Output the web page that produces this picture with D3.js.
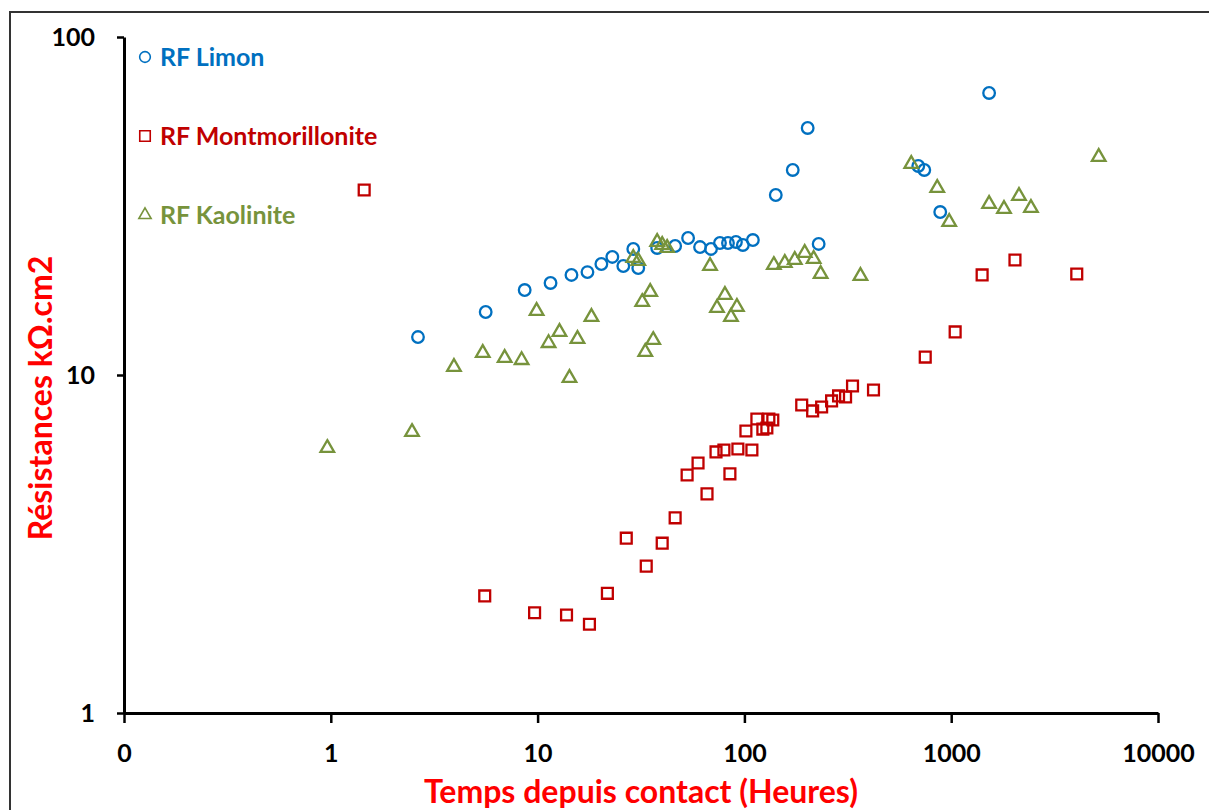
<!DOCTYPE html>
<html>
<head>
<meta charset="utf-8">
<script src="https://cdn.jsdelivr.net/npm/d3@7"></script>
<style>
  body { margin: 0; background: #fff; }
  svg { display: block; }
</style>
</head>
<body>
<div id="chart"></div>
<script>
// valeurs (temps en heures, resistance en kOhm.cm2)
const limonX = [2.64, 5.61, 8.66, 11.55, 14.58, 17.42, 20.34, 22.98, 25.97, 29.02, 30.67, 37.86, 46.25, 53.42, 61.02, 68.95, 76.18, 83.28, 91.0, 98.3, 109.9, 141.8, 171.3, 202.3, 228.6, 693, 741, 885, 1525];
const limonY = [12.95, 15.36, 17.84, 18.72, 19.77, 20.16, 21.30, 22.35, 21.01, 23.60, 20.73, 23.76, 24.08, 25.43, 23.91, 23.60, 24.58, 24.58, 24.75, 24.25, 25.08, 34.08, 40.42, 53.81, 24.42, 41.53, 40.42, 30.35, 68.3];

const montX = [1.45, 5.55, 9.67, 13.80, 17.81, 21.75, 26.84, 33.52, 40.04, 46.25, 52.84, 59.68, 65.95, 72.9, 79.6, 85.1, 93.0, 101.7, 108.7, 114.9, 122.8, 128.4, 137.2, 131.3, 189.3, 213.8, 236.3, 264.0, 285.3, 308.5, 333.3, 421, 749, 1045, 1411, 2034, 4047];
const montY = [35.27, 2.22, 1.98, 1.95, 1.83, 2.26, 3.29, 2.72, 3.18, 3.78, 5.06, 5.49, 4.45, 5.92, 6.00, 5.10, 6.04, 6.83, 6.00, 7.41, 6.92, 6.97, 7.36, 7.41, 8.15, 7.83, 8.04, 8.38, 8.67, 8.61, 9.28, 9.03, 11.30, 13.41, 19.77, 21.89, 19.90];

const kaoX = [0.962, 2.47, 3.94, 5.43, 6.93, 8.37, 9.89, 11.30, 12.76, 14.26, 15.59, 18.21, 29.02, 30.67, 32.06, 35.04, 33.16, 36.23, 37.86, 40.04, 42.31, 68.2, 73.7, 80.5, 86.1, 92.0, 138.8, 156.8, 175.2, 195.7, 216.2, 233.7, 364, 641, 856, 978, 1525, 1800, 2127, 2430, 5168];
const kaoY = [6.08, 6.78, 10.56, 11.62, 11.23, 11.07, 15.47, 12.43, 13.41, 9.80, 12.78, 14.85, 22.19, 21.74, 16.44, 17.61, 11.70, 12.69, 24.75, 24.25, 23.76, 21.01, 15.79, 17.25, 14.85, 15.89, 21.15, 21.45, 21.89, 22.96, 22.04, 19.90, 19.63, 42.11, 35.76, 28.36, 32.06, 30.98, 33.85, 31.20, 44.16];

const xTicks = [0.1, 1, 10, 100, 1000, 10000];
const xTickLabels = ['0', '1', '10', '100', '1000', '10000'];
const yTicks = [1, 10, 100];
const yTickLabels = ['1', '10', '100'];

const seriesNames = ['RF Limon', 'RF Montmorillonite', 'RF Kaolinite'];
const seriesColors = ['#0070C0', '#C00000', '#77933C'];

const svgWidth = 1209;
const svgHeight = 810;
const font = 'Lato, "Open Sans", sans-serif';

const svg = d3.select('#chart')
  .append('svg')
  .attr('width', svgWidth)
  .attr('height', svgHeight);

// cadre du graphique
svg.append('rect')
  .attr('x', 10)
  .attr('y', 12)
  .attr('width', 1220)
  .attr('height', 820)
  .attr('fill', 'none')
  .attr('stroke', '#333')
  .attr('stroke-width', 2);

const xScale = d3.scaleLog().domain([0.1, 10000]).range([124, 1158]);
const yScale = d3.scaleLog().domain([1, 100]).range([713, 37]);

// axe X
const xAxis = svg.append('g')
  .attr('transform', `translate(0,${yScale(1)})`)
  .call(d3.axisBottom(xScale)
    .tickValues(xTicks)
    .tickFormat((d, i) => xTickLabels[i])
    .tickSize(10)
    .tickSizeOuter(0));
xAxis.select('.domain').attr('stroke', '#000').attr('stroke-width', 3);
xAxis.selectAll('.tick line').attr('stroke', '#000').attr('stroke-width', 2.5);
xAxis.selectAll('.tick text')
  .attr('y', 49)
  .attr('dy', null)
  .style('font-family', font)
  .style('font-weight', 'bold')
  .style('font-size', '25px')
  .attr('fill', '#000');

// axe Y
const yAxis = svg.append('g')
  .attr('transform', `translate(${xScale(0.1)},0)`)
  .call(d3.axisLeft(yScale)
    .tickValues(yTicks)
    .tickFormat((d, i) => yTickLabels[i])
    .tickSize(7)
    .tickPadding(22)
    .tickSizeOuter(0));
yAxis.select('.domain').attr('stroke', '#000').attr('stroke-width', 3);
yAxis.selectAll('.tick line').attr('stroke', '#000').attr('stroke-width', 2.5);
yAxis.selectAll('.tick text')
  .attr('dy', '0.35em')
  .style('font-family', font)
  .style('font-weight', 'bold')
  .style('font-size', '25px')
  .attr('fill', '#000');

// titres des axes
svg.append('text')
  .attr('x', 641)
  .attr('y', 803)
  .attr('text-anchor', 'middle')
  .style('font-family', font)
  .style('font-weight', 'bold')
  .style('font-size', '32px')
  .attr('fill', '#FF0000')
  .text('Temps depuis contact (Heures)');

svg.append('text')
  .attr('transform', 'rotate(-90)')
  .attr('x', -398)
  .attr('y', 52)
  .attr('text-anchor', 'middle')
  .style('font-family', font)
  .style('font-weight', 'bold')
  .style('font-size', '32px')
  .attr('fill', '#FF0000')
  .text('Résistances kΩ.cm2');

// points
const plot = svg.append('g');

plot.selectAll('.limon')
  .data(limonX.map((x, i) => [x, limonY[i]]))
  .enter().append('circle')
  .attr('class', 'limon')
  .attr('cx', d => xScale(d[0]))
  .attr('cy', d => yScale(d[1]))
  .attr('r', 5.8)
  .attr('fill', 'none')
  .attr('stroke', seriesColors[0])
  .attr('stroke-width', 2.3);

const square = d3.symbol().type(d3.symbolSquare).size(118);
plot.selectAll('.mont')
  .data(montX.map((x, i) => [x, montY[i]]))
  .enter().append('path')
  .attr('class', 'mont')
  .attr('d', square)
  .attr('transform', d => `translate(${xScale(d[0])},${yScale(d[1])})`)
  .attr('fill', 'none')
  .attr('stroke', seriesColors[1])
  .attr('stroke-width', 2.3);

const triangle = d3.symbol().type(d3.symbolTriangle).size(80);
plot.selectAll('.kao')
  .data(kaoX.map((x, i) => [x, kaoY[i]]))
  .enter().append('path')
  .attr('class', 'kao')
  .attr('d', triangle)
  .attr('transform', d => `translate(${xScale(d[0])},${yScale(d[1])})`)
  .attr('fill', 'none')
  .attr('stroke', seriesColors[2])
  .attr('stroke-width', 2.3);

// legende
const legendY = [57, 136, 215];
const legend = svg.append('g');
const legendSymbols = [
  d3.symbol().type(d3.symbolCircle).size(90),
  d3.symbol().type(d3.symbolSquare).size(110),
  d3.symbol().type(d3.symbolTriangle).size(65)
];
seriesNames.forEach((name, i) => {
  legend.append('path')
    .attr('d', legendSymbols[i])
    .attr('transform', `translate(145,${legendY[i]})`)
    .attr('fill', 'none')
    .attr('stroke', seriesColors[i])
    .attr('stroke-width', 1.6);
  legend.append('text')
    .attr('x', 160)
    .attr('y', legendY[i] + 9)
    .style('font-family', font)
    .style('font-weight', 'bold')
    .style('font-size', '25px')
    .attr('fill', seriesColors[i])
    .text(name);
});
</script>
</body>
</html>
